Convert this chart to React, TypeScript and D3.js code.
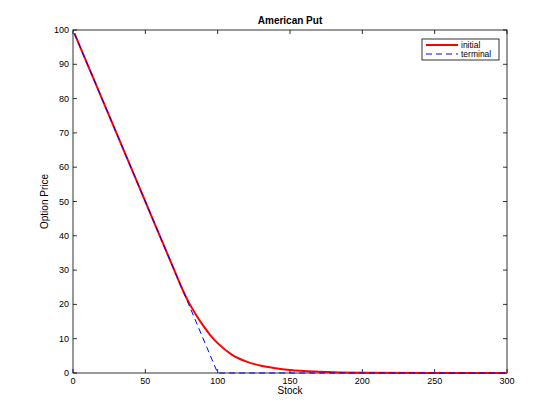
import React, { useEffect, useRef } from 'react';
import * as d3 from 'd3';

const initialS = [1, 10, 20, 30, 40, 50, 60, 70, 75, 80, 85, 90, 95, 100, 110, 120, 130, 140, 150, 170, 200, 250, 300];
const initialV = [99, 90, 80, 70, 60, 50, 40, 30, 25, 20.6, 17, 13.8, 11, 8.7, 5.3, 3.3, 2.1, 1.4, 0.9, 0.4, 0.1, 0, 0];
const terminalS = [1, 100, 300];
const terminalV = [99, 0, 0];
const xTicks = [0, 50, 100, 150, 200, 250, 300];
const yTicks = [0, 10, 20, 30, 40, 50, 60, 70, 80, 90, 100];

export default function App() {
  const ref = useRef<SVGSVGElement>(null);

  useEffect(() => {
    if (!ref.current) return;
    const svg = d3.select(ref.current);
    svg.selectAll('*').remove();
    const left = 73, right = 507, top = 30, bottom = 373;
    const x = d3.scaleLinear().domain([0, 300]).range([left, right]);
    const y = d3.scaleLinear().domain([0, 100]).range([bottom, top]);
    const font = 'Liberation Sans, Arial, sans-serif';

    svg.append('rect').attr('width', 560).attr('height', 420).attr('fill', '#fff');
    svg.append('rect').attr('x', left).attr('y', top).attr('width', right - left).attr('height', bottom - top)
      .attr('fill', '#fff').attr('stroke', '#000').attr('stroke-width', 0.8);

    xTicks.forEach(t => {
      g(x(t), bottom, x(t), bottom - 4); g(x(t), top, x(t), top + 4);
      svg.append('text').attr('x', x(t)).attr('y', bottom + 11).attr('text-anchor', 'middle')
        .attr('font-family', font).attr('font-size', 9).text(t);
    });
    yTicks.forEach(t => {
      g(left, y(t), left + 4, y(t)); g(right, y(t), right - 4, y(t));
      svg.append('text').attr('x', left - 4).attr('y', y(t) + 3).attr('text-anchor', 'end')
        .attr('font-family', font).attr('font-size', 9).text(t);
    });
    function g(x1: number, y1: number, x2: number, y2: number) {
      svg.append('line').attr('x1', x1).attr('y1', y1).attr('x2', x2).attr('y2', y2)
        .attr('stroke', '#000').attr('stroke-width', 0.8);
    }

    const line = d3.line<[number, number]>().x(d => x(d[0])).y(d => y(d[1])).curve(d3.curveMonotoneX);
    svg.append('path').datum(initialS.map((s, i) => [s, initialV[i]] as [number, number]))
      .attr('d', line).attr('fill', 'none').attr('stroke', '#f00').attr('stroke-width', 2);
    svg.append('path').datum(terminalS.map((s, i) => [s, terminalV[i]] as [number, number]))
      .attr('d', d3.line<[number, number]>().x(d => x(d[0])).y(d => y(d[1])))
      .attr('fill', 'none').attr('stroke', '#00f').attr('stroke-width', 1).attr('stroke-dasharray', '6,4');

    svg.append('text').attr('x', (left + right) / 2).attr('y', top - 6).attr('text-anchor', 'middle')
      .attr('font-family', font).attr('font-size', 10).attr('font-weight', 'bold').text('American Put');
    svg.append('text').attr('x', (left + right) / 2).attr('y', bottom + 21).attr('text-anchor', 'middle')
      .attr('font-family', font).attr('font-size', 10).text('Stock');
    svg.append('text').attr('transform', `translate(${left - 25},${(top + bottom) / 2}) rotate(-90)`)
      .attr('text-anchor', 'middle').attr('font-family', font).attr('font-size', 10).text('Option Price');

    const lg = svg.append('g').attr('transform', 'translate(422,39)');
    lg.append('rect').attr('width', 77).attr('height', 21).attr('fill', '#fff').attr('stroke', '#000').attr('stroke-width', 0.8);
    lg.append('line').attr('x1', 4).attr('x2', 36).attr('y1', 6).attr('y2', 6).attr('stroke', '#f00').attr('stroke-width', 2);
    lg.append('line').attr('x1', 4).attr('x2', 36).attr('y1', 15).attr('y2', 15).attr('stroke', '#00f').attr('stroke-dasharray', '6,4');
    lg.append('text').attr('x', 39).attr('y', 9).attr('font-family', font).attr('font-size', 8.5).text('initial');
    lg.append('text').attr('x', 39).attr('y', 18).attr('font-family', font).attr('font-size', 8.5).text('terminal');
  }, []);

  return <svg ref={ref} width={560} height={420} style={{ display: 'block', margin: -8 }} />;
}
